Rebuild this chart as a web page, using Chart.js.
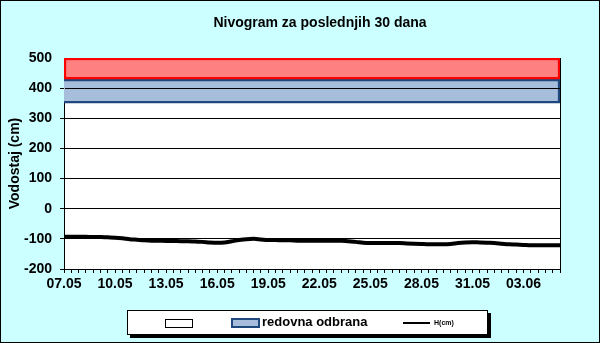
<!DOCTYPE html>
<html>
<head>
<meta charset="utf-8">
<script src="https://cdn.jsdelivr.net/npm/chart.js@4/dist/chart.umd.min.js"></script>
<style>
  html, body { margin: 0; padding: 0; background: #CCFFFF; }
  #wrap { position: relative; width: 600px; height: 343px; background: #CCFFFF; overflow: hidden; }
  #c { position: absolute; left: 0; top: 0; }
  #title { position: absolute; left: 0; width: 640px; top: 14px; text-align: center;
           font: bold 14px "Liberation Sans", Arial, sans-serif; color: #000; }
  #frame { position: absolute; left: 0; top: 0; width: 600px; height: 343px; box-sizing: border-box;
           border: 1px solid #000; pointer-events: none; }
  #legend { position: absolute; left: 127px; top: 310px; width: 361px; height: 25px; box-sizing: border-box;
            background: #fff; border: 1px solid #000; box-shadow: 3px 3px 0 #000;
            font-family: "Liberation Sans", Arial, sans-serif; font-weight: bold; color: #000; }
  .sw { position: absolute; box-sizing: border-box; }
  .lt { position: absolute; white-space: nowrap; }
</style>
</head>
<body>
<div id="wrap">
  <canvas id="c" width="600" height="343"></canvas>
  <div id="title">Nivogram za poslednjih 30 dana</div>
  <div id="legend">
    <div class="sw" style="left:37px;top:8px;width:28px;height:9px;border:1px solid #000;background:#fff;"></div>
    <div class="sw" style="left:103px;top:7px;width:29px;height:10px;border:2px solid #1F497D;background:#A6BDDB;"></div>
    <div class="lt" style="left:134px;top:3px;font-size:13px;">redovna odbrana</div>
    <div class="sw" style="left:275px;top:11px;width:27px;height:2px;background:#000;"></div>
    <div class="lt" style="left:306px;top:8px;font-size:7px;">H(cm)</div>
  </div>
  <div id="frame"></div>
</div>
<script>
// ---- data ----
const dateLabels = ['07.05','10.05','13.05','16.05','19.05','22.05','25.05','28.05','31.05','03.06'];
const labelEvery = 7;
const hValues = [
  -93,-93,-93,-93,-94,-94,-95,-96,-98,-101,
  -103,-105,-106,-106,-107,-107,-108,-108,-109,-110,
  -112,-113,-112,-108,-104,-101,-100,-102,-104,-104,
  -105,-105,-106,-106,-106,-106,-106,-106,-106,-108,
  -110,-113,-114,-114,-114,-114,-114,-115,-116,-117,
  -118,-118,-118,-117,-114,-112,-111,-112,-113,-114,
  -116,-118,-119,-120,-121,-121,-121,-121,-121
];
const redovnaOdbrana = [350, 430];
const vanrednaOdbrana = [430, 500];
const yTicks = { min: -200, max: 500, step: 100 };

const categories = hValues.map((v, i) => (i % labelEvery === 0 ? (dateLabels[i / labelEvery] || '') : ''));

const FONT = '"Liberation Sans", Arial, sans-serif';

const plotBg = {
  id: 'plotBg',
  beforeDraw(chart) {
    const { ctx, chartArea: a } = chart;
    ctx.save();
    ctx.fillStyle = '#fff';
    ctx.fillRect(a.left, a.top, a.right - a.left, a.bottom - a.top);
    ctx.restore();
  },
  beforeDatasetsDraw(chart) {
    const { ctx, chartArea: a } = chart;
    ctx.save();
    ctx.strokeStyle = '#000';
    ctx.lineWidth = 1;
    ctx.strokeRect(Math.round(a.left) + 0.5, Math.round(a.top) + 0.5, Math.round(a.right - a.left), Math.round(a.bottom - a.top));
    ctx.restore();
  }
};

new Chart(document.getElementById('c'), {
  data: {
    labels: categories,
    datasets: [
      {
        type: 'line', label: 'H(cm)', data: hValues, xAxisID: 'x', yAxisID: 'y',
        borderColor: '#000', borderWidth: 4, pointRadius: 0, fill: false,
        cubicInterpolationMode: 'monotone', order: 0
      },
      {
        type: 'bar', label: 'vanredna odbrana', data: [vanrednaOdbrana], xAxisID: 'x2', yAxisID: 'y',
        backgroundColor: '#FF8080', borderColor: '#FF0000', borderWidth: 2.5, borderSkipped: false,
        barPercentage: 1, categoryPercentage: 1, grouped: false, order: 2
      },
      {
        type: 'bar', label: 'redovna odbrana', data: [redovnaOdbrana], xAxisID: 'x2', yAxisID: 'y',
        backgroundColor: '#A6BDDB', borderColor: '#1F497D', borderWidth: 2.5, borderSkipped: 'left',
        barPercentage: 1, categoryPercentage: 1, grouped: false, order: 3
      }
    ]
  },
  options: {
    responsive: false,
    animation: false,
    layout: { padding: { left: 0, right: 40, top: 58, bottom: 0 } },
    plugins: { legend: { display: false }, tooltip: { enabled: false }, title: { display: false } },
    scales: {
      x: {
        type: 'category', offset: false, position: 'bottom',
        grid: { display: true, drawOnChartArea: false, drawTicks: true, tickLength: 4, color: '#000', offset: false },
        border: { display: true, color: '#000', width: 1 },
        ticks: {
          autoSkip: false, maxRotation: 0, minRotation: 0, padding: 3, color: '#000',
          font: { family: FONT, size: 14, weight: 'bold' }
        },
        afterFit(s) { s.height = 74; }
      },
      x2: {
        type: 'category', labels: ['band'], offset: true, display: false,
        grid: { display: false }
      },
      y: {
        type: 'linear', min: yTicks.min, max: yTicks.max,
        grid: {
          z: 1, tickLength: 4, lineWidth: 1,
          color: (c) => (c.tick && c.tick.value === yTicks.max ? 'rgba(0,0,0,0)' : '#000')
        },
        border: { display: true, color: '#000', width: 1 },
        ticks: {
          stepSize: yTicks.step, padding: 8, color: '#000',
          font: { family: FONT, size: 14, weight: 'bold' }
        },
        title: {
          display: true, text: 'Vodostaj (cm)', color: '#000',
          font: { family: FONT, size: 14, weight: 'bold' },
          padding: { top: 7, bottom: 0 }
        },
        afterFit(s) { s.width = 64; }
      }
    }
  },
  plugins: [plotBg]
});
</script>
</body>
</html>
